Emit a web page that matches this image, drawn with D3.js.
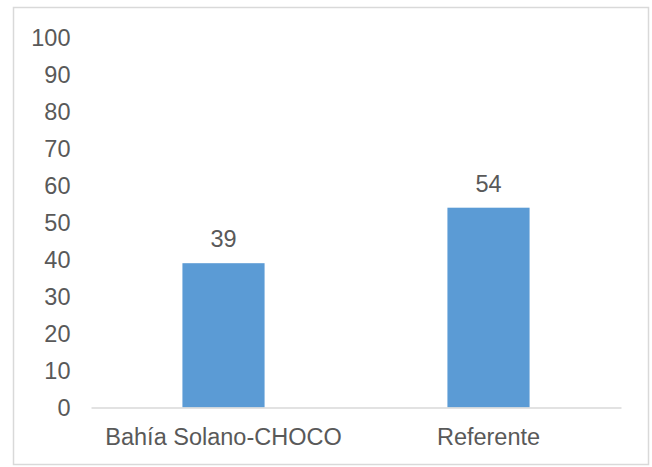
<!DOCTYPE html>
<html><head><meta charset="utf-8">
<script src="https://cdn.jsdelivr.net/npm/d3@7"></script>
<style>body{margin:0;background:#fff}svg{display:block}text{font-family:"Liberation Sans",Arial,sans-serif;fill:#595959}</style>
</head><body>
<script>
const categories = ["Bahía Solano-CHOCO", "Referente"];
const values = [39, 54];
const yTicks = [0,10,20,30,40,50,60,70,80,90,100];

const W = 652, H = 467, FS = 23.5;
const svg = d3.select("body").append("svg").attr("width", W).attr("height", H);
svg.append("rect").attr("x",13.5).attr("y",7.5).attr("width",635).attr("height",457)
  .attr("fill","#fff").attr("stroke","#d9d9d9").attr("stroke-width",1.5);

const x = d3.scaleBand().domain(categories).range([91,621]).paddingInner(0.69).paddingOuter(0.345);
const y = d3.scaleLinear().domain([0,100]).range([407.5,37.5]);

const gy = svg.append("g").attr("transform","translate(70.5,0)")
  .call(d3.axisLeft(y).tickValues(yTicks).tickSize(0).tickPadding(0));
gy.select(".domain").remove();
gy.selectAll("text").attr("font-size",FS).style("font-family","Liberation Sans, Arial, sans-serif").attr("fill","#595959");

svg.selectAll(".bar").data(values).join("rect")
  .attr("x",(d,i)=>x(categories[i])).attr("width",x.bandwidth())
  .attr("y",d=>y(d)).attr("height",d=>y(0)-y(d)).attr("fill","#5b9bd5");

const gx = svg.append("g").attr("transform",`translate(0,${y(0)})`)
  .call(d3.axisBottom(x).tickSize(0).tickPadding(21));
gx.select(".domain").attr("stroke","#d9d9d9").attr("stroke-width",1.5);
gx.selectAll("text").attr("font-size",FS).style("font-family","Liberation Sans, Arial, sans-serif").attr("fill","#595959");

svg.selectAll(".lbl").data(values).join("text")
  .attr("x",(d,i)=>x(categories[i])+x.bandwidth()/2).attr("y",d=>y(d)-16)
  .attr("text-anchor","middle").attr("font-size",FS).attr("fill","#404040").text(d=>d);
</script>
</body></html>
